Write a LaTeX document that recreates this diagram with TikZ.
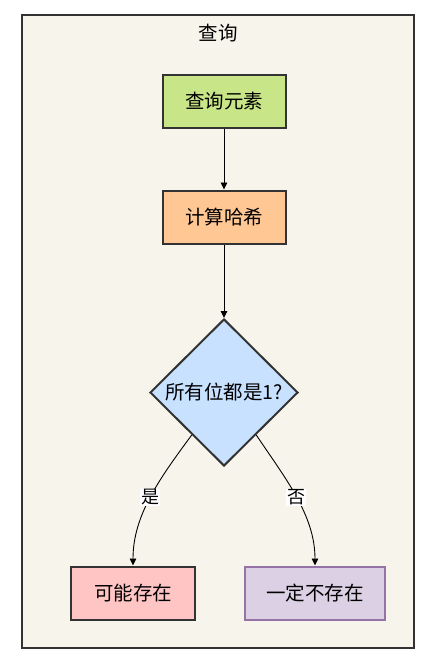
\documentclass[tikz,border=0pt]{standalone}
\usepackage{fontspec}
\setmainfont{Noto Sans CJK SC}
\usetikzlibrary{shapes.geometric,arrows.meta,calc}
\definecolor{framebg}{RGB}{247,245,235}
\definecolor{frameline}{RGB}{51,51,51}
\definecolor{greenfill}{RGB}{200,230,135}
\definecolor{orangefill}{RGB}{255,199,148}
\definecolor{bluefill}{RGB}{199,225,255}
\definecolor{pinkfill}{RGB}{255,196,196}
\definecolor{purplefill}{RGB}{220,208,228}
\definecolor{purpleline}{RGB}{150,115,166}
\tikzset{
  txt/.style={font=\fontsize{19.5}{22}\selectfont},
  box/.style={rectangle, draw=frameline, line width=2pt, minimum width=123pt, minimum height=53pt, inner sep=0pt, txt},
  flow/.style={draw=black, line width=0.9pt, -{Triangle[length=7pt,width=6.5pt]}},
  lbl/.style={fill=white, inner sep=1pt, font=\fontsize{18}{20}\selectfont},
}
\begin{document}
\begin{tikzpicture}[x=1pt,y=-1pt]
\useasboundingbox (0,0) rectangle (429,661);
\node[draw=frameline, line width=2pt, fill=framebg, minimum width=392pt, minimum height=633pt, inner sep=0pt] (frame) at (218,331.5) {};
\node[txt] (title) at (218,33) {查询};
\node[box, fill=greenfill] (q) at (224,101) {查询元素};
\node[box, fill=orangefill] (h) at (224,217) {计算哈希};
\node[diamond, draw=frameline, line width=2pt, fill=bluefill, minimum width=148pt, minimum height=147pt, inner sep=0pt, label={[txt]center:所有位都是1?}] (d) at (224,392.5) {};
\node[box, fill=pinkfill, minimum width=124pt] (yes) at (133,593) {可能存在};
\node[box, draw=purpleline, fill=purplefill, minimum width=140pt] (no) at (315,593) {一定不存在};
\draw[flow] (q.south) -- (h.north);
\draw[flow] (h.south) -- (d.north);
\coordinate (dy) at ($(d.west)!0.57!(d.south)$);
\coordinate (dn) at ($(d.east)!0.57!(d.south)$);
\draw[flow] (dy) .. controls (160,478) and (133,515) .. (yes.north) node[pos=0.5, lbl] {是};
\draw[flow] (dn) .. controls (285,478) and (315,515) .. (no.north) node[pos=0.5, lbl] {否};
\end{tikzpicture}
\end{document}
